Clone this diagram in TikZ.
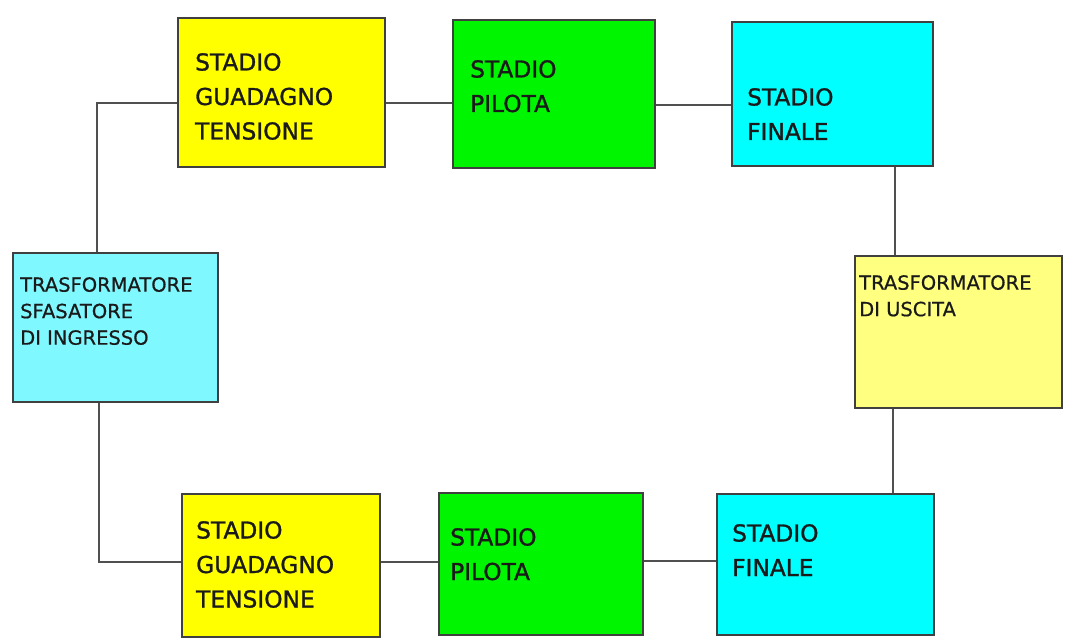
\documentclass[tikz,border=0pt]{standalone}
\usepackage{fontspec}
\newfontfamily\boxfont[FakeBold=1.2]{DejaVu Sans}
\newfontfamily\trafofont[FakeBold=0.6]{DejaVu Sans}
\usetikzlibrary{fit}
\definecolor{cyel}{HTML}{FFFF00}
\definecolor{cgrn}{HTML}{00F500}
\definecolor{ccya}{HTML}{00FFFF}
\definecolor{clcya}{HTML}{80F8FF}
\definecolor{clyel}{HTML}{FFFF80}
\definecolor{cborder}{HTML}{404040}
\definecolor{cline}{HTML}{505050}
\definecolor{ctext}{HTML}{1A1A1A}
\tikzset{
  blk/.style={draw=cborder, line width=1.6pt, inner sep=0pt, rectangle},
  stxt/.style={font=\boxfont\fontsize{23.3}{34.5}\selectfont, align=left, inner sep=0pt, anchor=north west, text=ctext},
  ttxt/.style={font=\trafofont\fontsize{19.5}{26.5}\selectfont, align=left, inner sep=0pt, anchor=north west, text=ctext},
  wire/.style={draw=cline, line width=1.5pt}
}
\begin{document}
\begin{tikzpicture}[x=1pt,y=-1pt]
\useasboundingbox (0,0) rectangle (1065,643);
% boxes
\node[blk, fill=cyel, fit={(178,18) (385,167)}] (y1) {};
\node[blk, fill=cgrn, fit={(453,20) (655,168)}] (g1) {};
\node[blk, fill=ccya, fit={(732,22) (933,166)}] (f1) {};
\node[blk, fill=clcya, fit={(13,253) (218,402)}] (L) {};
\node[blk, fill=clyel, fit={(855,256) (1062,408)}] (R) {};
\node[blk, fill=cyel, fit={(182,494) (380,637)}] (y2) {};
\node[blk, fill=cgrn, fit={(439,493) (643,635)}] (g2) {};
\node[blk, fill=ccya, fit={(717,494) (934,635)}] (f2) {};
% texts
\node[stxt] (y1t) at (195,53) {STADIO\\GUADAGNO\\TENSIONE};
\node[stxt] (g1t) at (470,60) {STADIO\\PILOTA};
\node[stxt] (f1t) at (747,88) {STADIO\\FINALE};
\node[ttxt] (Lt) at (20,277) {TRASFORMATORE\\SFASATORE\\DI INGRESSO};
\node[ttxt] (Rt) at (859,275) {TRASFORMATORE\\DI USCITA};
\node[stxt] (y2t) at (196,521) {STADIO\\GUADAGNO\\TENSIONE};
\node[stxt] (g2t) at (450,528) {STADIO\\PILOTA};
\node[stxt] (f2t) at (732,524) {STADIO\\FINALE};
% bend / level coordinates
\coordinate (c1) at (97,103);
\coordinate (c2) at (99,562);
\coordinate (c3) at (895,105);
\coordinate (c4) at (893,561);
% connectors
\draw[wire] (L.north -| c1) -- (c1) -- (c1 -| y1.west);
\draw[wire] (y1.east |- c1) -- (g1.west |- c1);
\draw[wire] (g1.east |- c3) -- (f1.west |- c3);
\draw[wire] (f1.south -| c3) -- (R.north -| c3);
\draw[wire] (R.south -| c4) -- (f2.north -| c4);
\draw[wire] (f2.west |- c4) -- (g2.east |- c4);
\draw[wire] (g2.west |- c2) -- (y2.east |- c2);
\draw[wire] (y2.west |- c2) -- (c2) -- (L.south -| c2);
\end{tikzpicture}
\end{document}
